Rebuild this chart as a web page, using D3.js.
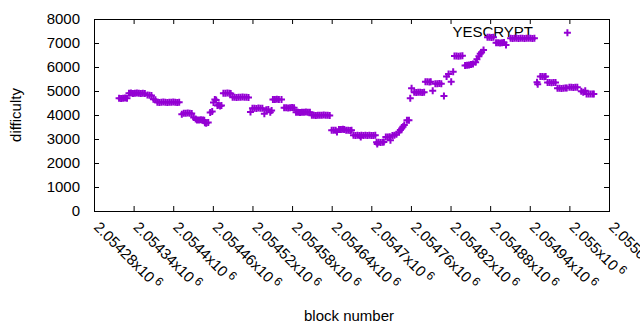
<!DOCTYPE html>
<html>
<head>
<meta charset="utf-8">
<script src="https://cdn.jsdelivr.net/npm/d3@7.9.0/dist/d3.min.js"></script>
<style>
  body { margin: 0; background: #fff; }
  svg text { font-family: "Liberation Sans", Arial, sans-serif; font-size: 15px; fill: #000; }
</style>
</head>
<body>
<svg width="640" height="330"></svg>
<script>
// block heights and their difficulty
const blocks = [
  2054318, 2054321, 2054324, 2054327, 2054330,
  2054333, 2054336, 2054339, 2054342, 2054345, 2054348, 2054351, 2054354, 2054357,
  2054361, 2054364, 2054367, 2054370, 2054373,
  2054376, 2054379, 2054382, 2054385, 2054388, 2054391, 2054394, 2054397, 2054400, 2054403, 2054406, 2054409,
  2054413, 2054416, 2054419, 2054422, 2054425, 2054428, 2054431, 2054434,
  2054436, 2054439, 2054442, 2054445, 2054447, 2054448, 2054450, 2054453,
  2054456, 2054459, 2054461, 2054463, 2054465, 2054467, 2054469, 2054471, 2054473,
  2054476, 2054479, 2054482, 2054485, 2054487,
  2054490, 2054493, 2054496, 2054499, 2054502, 2054505, 2054508, 2054511, 2054514,
  2054517, 2054520, 2054523, 2054526, 2054529, 2054532, 2054535, 2054538, 2054541, 2054544, 2054547, 2054549,
  2054551, 2054554, 2054557, 2054560, 2054564,
  2054568, 2054571, 2054574, 2054577, 2054580, 2054583,
  2054586, 2054589, 2054592, 2054595, 2054598, 2054601, 2054604, 2054607,
  2054610, 2054613, 2054616, 2054619, 2054622, 2054625, 2054628, 2054631, 2054634, 2054637,
  2054640, 2054643, 2054646, 2054648, 2054651, 2054654, 2054657, 2054659,
  2054662, 2054665, 2054668, 2054670,
  2054673, 2054676, 2054679, 2054682, 2054684, 2054685, 2054688, 2054691, 2054694, 2054697, 2054700, 2054703, 2054706,
  2054708, 2054709, 2054711, 2054714, 2054717, 2054719,
  2054722, 2054725, 2054728, 2054729,
  2054732, 2054735, 2054738, 2054742, 2054744, 2054746, 2054748, 2054750, 2054754, 2054757,
  2054759, 2054761,
  2054765, 2054768, 2054771, 2054774, 2054777, 2054780,
  2054782, 2054785, 2054788, 2054790, 2054793,
  2054797, 2054800, 2054803, 2054806,
  2054810, 2054814, 2054817, 2054821, 2054824,
  2054826, 2054829, 2054832, 2054835, 2054838,
  2054842, 2054845, 2054848, 2054851, 2054854,
  2054858, 2054860, 2054863, 2054865, 2054867, 2054870,
  2054876, 2054879, 2054882, 2054885,
  2054889, 2054892, 2054895, 2054898, 2054901, 2054904,
  2054911, 2054914, 2054917, 2054920, 2054923, 2054926, 2054929, 2054932, 2054935, 2054938, 2054941, 2054944, 2054947,
  2054951, 2054952,
  2054956, 2054959, 2054962, 2054964,
  2054967, 2054970, 2054973, 2054976, 2054979,
  2054982, 2054985, 2054988, 2054991, 2054994, 2054996, 2054997,
  2055000, 2055003, 2055006, 2055009, 2055012,
  2055018, 2055021, 2055024,
  2055026, 2055029, 2055032, 2055035, 2055037
];
const difficulty = [
  4700, 4690, 4700, 4710, 4700,
  4910, 4920, 4900, 4910, 4920, 4910, 4900, 4910, 4900,
  4830, 4820, 4810, 4660, 4640,
  4530, 4520, 4530, 4540, 4530, 4520, 4530, 4530, 4540, 4530, 4520, 4530,
  4030, 4070, 4070, 4080, 4070, 4060, 3900, 3830,
  3790, 3790, 3800, 3790, 3780, 3680, 3660, 3690,
  4100, 4150, 4520, 4650, 4630, 4400, 4420, 4380, 4400,
  4910, 4910, 4920, 4910, 4900,
  4740, 4740, 4730, 4740, 4740, 4750, 4740, 4740, 4730,
  4120, 4280, 4280, 4270, 4290, 4280, 4280, 4050, 4220, 4230, 4110, 4190,
  4650, 4650, 4660, 4650, 4650,
  4300, 4300, 4290, 4300, 4310, 4300,
  4110, 4110, 4100, 4110, 4110, 4120, 4110, 4110,
  3990, 3990, 3980, 3990, 3990, 3990, 4000, 3990, 3990, 3980,
  3360, 3360, 3360, 3290, 3400, 3400, 3410, 3400,
  3360, 3360, 3350, 3360,
  3160, 3150, 3160, 3150, 3080, 3160, 3150, 3160, 3150, 3160, 3150, 3150, 3160,
  2860, 2790, 2860, 2850, 2860, 2870,
  3080, 3080, 3090, 2950,
  3150, 3160, 3200, 3280, 3370, 3440, 3510, 3580, 3780, 3780,
  4700, 5110,
  4950, 4940, 4950, 4950, 4940, 4950,
  5390, 5390, 5380, 5390, 5010,
  5305, 5300, 5310, 5305,
  4790, 5600, 5710, 5390, 5800,
  6460, 6460, 6450, 6460, 6470,
  6060, 6070, 6080, 6100, 6120,
  6200, 6320, 6450, 6550, 6610, 6710,
  7240, 7240, 7230, 7240,
  7010, 7010, 7000, 7010, 7020, 6920,
  7195, 7190, 7200, 7195, 7190, 7200, 7195, 7190, 7200, 7195, 7200, 7190, 7195,
  5360, 5280,
  5600, 5600, 5590, 5600,
  5350, 5350, 5340, 5350, 5350,
  5110, 5110, 5100, 5110, 5120, 5120, 7430,
  5160, 5160, 5150, 5160, 5160,
  4990, 4950, 5010,
  4880, 4880, 4870, 4880, 4880
];
const xTicks = d3.range(2054280, 2055061, 60);
const yTicks = d3.range(0, 8001, 1000);
const seriesName = "YESCRYPT";

const svg = d3.select("svg");
const plotLeft = 94, plotRight = 609, plotTop = 19, plotBottom = 211;

const x = d3.scaleLinear().domain([2054280, 2055060]).range([plotLeft, plotRight]);
const y = d3.scaleLinear().domain([0, 8000]).range([plotBottom, plotTop]);

// ticks on all four sides, pointing in
svg.append("g").attr("transform", `translate(${plotLeft},0)`)
  .call(d3.axisLeft(y).tickValues(yTicks).tickSize(-5).tickPadding(14).tickFormat(d3.format("d")));
svg.append("g").attr("transform", `translate(${plotRight},0)`)
  .call(d3.axisRight(y).tickValues(yTicks).tickSize(-5).tickFormat(""));
svg.append("g").attr("transform", `translate(0,${plotBottom})`)
  .call(d3.axisBottom(x).tickValues(xTicks).tickSize(-5).tickFormat(""));
svg.append("g").attr("transform", `translate(0,${plotTop})`)
  .call(d3.axisTop(x).tickValues(xTicks).tickSize(-5).tickFormat(""));

svg.selectAll(".domain").remove();
svg.selectAll(".tick line").attr("stroke", "#000");
svg.selectAll(".tick text").attr("font-size", 15.5).attr("font-family", "Liberation Sans, Arial, sans-serif");

svg.append("rect")
  .attr("x", plotLeft + 0.5).attr("y", plotTop + 0.5)
  .attr("width", plotRight - plotLeft).attr("height", plotBottom - plotTop)
  .attr("fill", "none").attr("stroke", "#000");

// rotated x tick labels like "2.05428x10^6"
const xl = svg.append("g");
xTicks.forEach(t => {
  const lab = xl.append("text")
    .attr("transform", `translate(${x(t) - 1},${plotBottom + 17}) rotate(45)`);
  lab.append("tspan").text(+(t / 1e6).toFixed(5) + "x10");
  lab.append("tspan").attr("dx", 3).attr("dy", -5).attr("font-size", 12).text("6");
});

svg.append("text")
  .attr("x", 533).attr("y", 37)
  .attr("text-anchor", "end")
  .text(seriesName);

// points, drawn as '+'
const pts = svg.append("g").attr("stroke", "#9400d3").attr("stroke-width", 2);
blocks.forEach((b, i) => {
  const px = x(b), py = y(difficulty[i]);
  pts.append("path")
    .attr("d", `M${px - 3.5},${py}H${px + 3.5}M${px},${py - 3.5}V${py + 3.5}`);
});

svg.append("text")
  .attr("transform", `translate(21,115) rotate(-90)`)
  .attr("text-anchor", "middle")
  .text("difficulty");

svg.append("text")
  .attr("x", 349).attr("y", 321)
  .attr("text-anchor", "middle")
  .text("block number");
</script>
</body>
</html>
